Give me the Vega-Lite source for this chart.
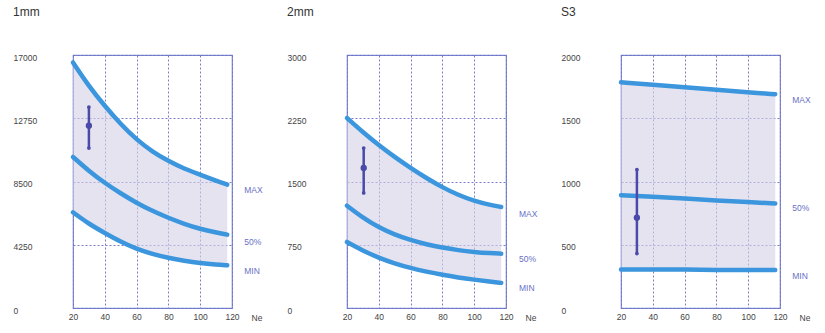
{
  "$schema": "https://vega.github.io/schema/vega-lite/v6.json",
  "padding": {"left": 12, "top": 5, "right": 5, "bottom": 5},
  "background": "white",
  "spacing": 115,
  "bounds": "flush",
  "config": {
    "font": "Liberation Sans",
    "view": {"stroke": "#7b86d2", "strokeWidth": 1.2},
    "axis": {"labelFont": "Liberation Sans", "labelFontSize": 8.5, "labelColor": "#444444", "grid": true, "gridColor": "#6b70c4", "gridDash": [2, 2], "gridOpacity": 0.9, "gridWidth": 1, "domain": false, "ticks": false, "tickSize": 0, "format": "d", "labelOverlap": false, "labelFlush": false, "tickCount": 12},
    "axisX": {"labelPadding": 4, "titleFont": "Liberation Sans", "titleFontSize": 8.5, "titleFontWeight": "normal", "titleColor": "#444444", "titleAlign": "left", "titleBaseline": "middle", "titleX": 178, "titleY": 9, "titleAngle": 0},
    "axisY": {"labelAlign": "left", "labelPadding": 60, "labelBaseline": "middle", "labelOffset": 2, "title": null},
    "title": {"anchor": "start", "frame": "group", "dx": -60, "offset": 34, "font": "Liberation Sans", "fontSize": 12, "fontWeight": "normal", "color": "#333333"}
  },
  "datasets": {
    "c1": [
      {"ne": 20, "max": 16500, "mid": 10150, "min": 6430},
      {"ne": 30, "max": 14900, "mid": 9200, "min": 5650},
      {"ne": 40, "max": 13570, "mid": 8400, "min": 5040},
      {"ne": 50, "max": 12350, "mid": 7700, "min": 4450},
      {"ne": 60, "max": 11310, "mid": 7060, "min": 3960},
      {"ne": 70, "max": 10500, "mid": 6520, "min": 3620},
      {"ne": 80, "max": 9870, "mid": 6050, "min": 3360},
      {"ne": 90, "max": 9350, "mid": 5650, "min": 3170},
      {"ne": 100, "max": 8960, "mid": 5310, "min": 3020},
      {"ne": 110, "max": 8550, "mid": 5070, "min": 2920},
      {"ne": 117, "max": 8290, "mid": 4930, "min": 2870}
    ],
    "c2": [
      {"ne": 20, "max": 2253, "mid": 1213, "min": 783},
      {"ne": 30, "max": 2085, "mid": 1070, "min": 680},
      {"ne": 40, "max": 1930, "mid": 955, "min": 595},
      {"ne": 50, "max": 1790, "mid": 870, "min": 528},
      {"ne": 60, "max": 1660, "mid": 805, "min": 474},
      {"ne": 70, "max": 1540, "mid": 755, "min": 430},
      {"ne": 80, "max": 1430, "mid": 715, "min": 393},
      {"ne": 90, "max": 1340, "mid": 685, "min": 362},
      {"ne": 100, "max": 1270, "mid": 664, "min": 336},
      {"ne": 110, "max": 1222, "mid": 650, "min": 312},
      {"ne": 117, "max": 1198, "mid": 644, "min": 298}
    ],
    "c3": [
      {"ne": 20, "max": 1784, "mid": 892, "min": 305},
      {"ne": 40, "max": 1765, "mid": 880, "min": 305},
      {"ne": 60, "max": 1745, "mid": 865, "min": 305},
      {"ne": 80, "max": 1725, "mid": 850, "min": 300},
      {"ne": 100, "max": 1705, "mid": 838, "min": 300},
      {"ne": 117, "max": 1690, "mid": 826, "min": 300}
    ],
    "e1": [{"ne": 30, "lo": 10750, "c": 12250, "hi": 13500}],
    "e2": [{"ne": 30.5, "lo": 1364, "c": 1660, "hi": 1897}],
    "e3": [{"ne": 30, "lo": 430, "c": 714, "hi": 1094}],
    "l1": [{"ne": 127.7, "v": 7930, "lab": "MAX"}, {"ne": 127.7, "v": 4435, "lab": "50%"}, {"ne": 127.7, "v": 2486, "lab": "MIN"}],
    "l2": [{"ne": 128.2, "v": 1118, "lab": "MAX"}, {"ne": 128.2, "v": 581, "lab": "50%"}, {"ne": 128.2, "v": 237, "lab": "MIN"}],
    "l3": [{"ne": 127.7, "v": 1645, "lab": "MAX"}, {"ne": 127.7, "v": 792, "lab": "50%"}, {"ne": 127.7, "v": 254, "lab": "MIN"}]
  },
  "hconcat": [
    {
      "width": 159, "height": 253,
      "title": {"text": "1mm"},
      "layer": [
        {"data": {"name": "c1"}, "mark": {"type": "area", "color": "#d6d0e6", "opacity": 0.6, "interpolate": "basis"},
         "encoding": {
           "x": {"field": "ne", "type": "quantitative", "scale": {"domain": [20, 120], "nice": false, "zero": false}, "axis": {"values": [20, 40, 60, 80, 100, 120], "title": "Ne"}},
           "y": {"field": "max", "type": "quantitative", "scale": {"domain": [0, 17000], "nice": false}, "axis": {"values": [0, 4250, 8500, 12750, 17000], "title": null}},
           "y2": {"field": "min"}}},
        {"data": {"name": "c1"}, "transform": [{"fold": ["max", "mid", "min"], "as": ["k", "v"]}],
         "mark": {"type": "line", "color": "#3b96dd", "strokeWidth": 4.5, "interpolate": "basis", "strokeCap": "round"},
         "encoding": {"x": {"field": "ne", "type": "quantitative"}, "y": {"field": "v", "type": "quantitative", "title": null}, "detail": {"field": "k"}}},
        {"data": {"name": "e1"}, "mark": {"type": "rule", "color": "#4a4aa8", "strokeWidth": 2.5},
         "encoding": {"x": {"field": "ne", "type": "quantitative"}, "y": {"field": "lo", "type": "quantitative", "title": null}, "y2": {"field": "hi"}}},
        {"data": {"name": "e1"}, "transform": [{"fold": ["lo", "hi"], "as": ["k", "v"]}], "mark": {"type": "point", "filled": true, "color": "#4a4aa8", "size": 14, "opacity": 1},
         "encoding": {"x": {"field": "ne", "type": "quantitative"}, "y": {"field": "v", "type": "quantitative", "title": null}}},
        {"data": {"name": "e1"}, "mark": {"type": "point", "filled": true, "color": "#4a4aa8", "size": 40, "opacity": 1},
         "encoding": {"x": {"field": "ne", "type": "quantitative"}, "y": {"field": "c", "type": "quantitative", "title": null}}},
        {"data": {"name": "l1"}, "mark": {"type": "text", "align": "left", "baseline": "middle", "fontSize": 8.5, "color": "#6a70c6"},
         "encoding": {"x": {"field": "ne", "type": "quantitative"}, "y": {"field": "v", "type": "quantitative", "title": null}, "text": {"field": "lab"}}}
      ]
    },
    {
      "width": 159, "height": 253,
      "title": {"text": "2mm"},
      "layer": [
        {"data": {"name": "c2"}, "mark": {"type": "area", "color": "#d6d0e6", "opacity": 0.6, "interpolate": "basis"},
         "encoding": {
           "x": {"field": "ne", "type": "quantitative", "scale": {"domain": [20, 120], "nice": false, "zero": false}, "axis": {"values": [20, 40, 60, 80, 100, 120], "title": "Ne"}},
           "y": {"field": "max", "type": "quantitative", "scale": {"domain": [0, 3000], "nice": false}, "axis": {"values": [0, 750, 1500, 2250, 3000], "title": null}},
           "y2": {"field": "min"}}},
        {"data": {"name": "c2"}, "transform": [{"fold": ["max", "mid", "min"], "as": ["k", "v"]}],
         "mark": {"type": "line", "color": "#3b96dd", "strokeWidth": 4.5, "interpolate": "basis", "strokeCap": "round"},
         "encoding": {"x": {"field": "ne", "type": "quantitative"}, "y": {"field": "v", "type": "quantitative", "title": null}, "detail": {"field": "k"}}},
        {"data": {"name": "e2"}, "mark": {"type": "rule", "color": "#4a4aa8", "strokeWidth": 2.5},
         "encoding": {"x": {"field": "ne", "type": "quantitative"}, "y": {"field": "lo", "type": "quantitative", "title": null}, "y2": {"field": "hi"}}},
        {"data": {"name": "e2"}, "transform": [{"fold": ["lo", "hi"], "as": ["k", "v"]}], "mark": {"type": "point", "filled": true, "color": "#4a4aa8", "size": 14, "opacity": 1},
         "encoding": {"x": {"field": "ne", "type": "quantitative"}, "y": {"field": "v", "type": "quantitative", "title": null}}},
        {"data": {"name": "e2"}, "mark": {"type": "point", "filled": true, "color": "#4a4aa8", "size": 40, "opacity": 1},
         "encoding": {"x": {"field": "ne", "type": "quantitative"}, "y": {"field": "c", "type": "quantitative", "title": null}}},
        {"data": {"name": "l2"}, "mark": {"type": "text", "align": "left", "baseline": "middle", "fontSize": 8.5, "color": "#6a70c6"},
         "encoding": {"x": {"field": "ne", "type": "quantitative"}, "y": {"field": "v", "type": "quantitative", "title": null}, "text": {"field": "lab"}}}
      ]
    },
    {
      "width": 159, "height": 253,
      "title": {"text": "S3"},
      "layer": [
        {"data": {"name": "c3"}, "mark": {"type": "area", "color": "#d6d0e6", "opacity": 0.6, "interpolate": "basis"},
         "encoding": {
           "x": {"field": "ne", "type": "quantitative", "scale": {"domain": [20, 120], "nice": false, "zero": false}, "axis": {"values": [20, 40, 60, 80, 100, 120], "title": "Ne"}},
           "y": {"field": "max", "type": "quantitative", "scale": {"domain": [0, 2000], "nice": false}, "axis": {"values": [0, 500, 1000, 1500, 2000], "title": null}},
           "y2": {"field": "min"}}},
        {"data": {"name": "c3"}, "transform": [{"fold": ["max", "mid", "min"], "as": ["k", "v"]}],
         "mark": {"type": "line", "color": "#3b96dd", "strokeWidth": 4.5, "interpolate": "basis", "strokeCap": "round"},
         "encoding": {"x": {"field": "ne", "type": "quantitative"}, "y": {"field": "v", "type": "quantitative", "title": null}, "detail": {"field": "k"}}},
        {"data": {"name": "e3"}, "mark": {"type": "rule", "color": "#4a4aa8", "strokeWidth": 2.5},
         "encoding": {"x": {"field": "ne", "type": "quantitative"}, "y": {"field": "lo", "type": "quantitative", "title": null}, "y2": {"field": "hi"}}},
        {"data": {"name": "e3"}, "transform": [{"fold": ["lo", "hi"], "as": ["k", "v"]}], "mark": {"type": "point", "filled": true, "color": "#4a4aa8", "size": 14, "opacity": 1},
         "encoding": {"x": {"field": "ne", "type": "quantitative"}, "y": {"field": "v", "type": "quantitative", "title": null}}},
        {"data": {"name": "e3"}, "mark": {"type": "point", "filled": true, "color": "#4a4aa8", "size": 40, "opacity": 1},
         "encoding": {"x": {"field": "ne", "type": "quantitative"}, "y": {"field": "c", "type": "quantitative", "title": null}}},
        {"data": {"name": "l3"}, "mark": {"type": "text", "align": "left", "baseline": "middle", "fontSize": 8.5, "color": "#6a70c6"},
         "encoding": {"x": {"field": "ne", "type": "quantitative"}, "y": {"field": "v", "type": "quantitative", "title": null}, "text": {"field": "lab"}}}
      ]
    }
  ]
}
